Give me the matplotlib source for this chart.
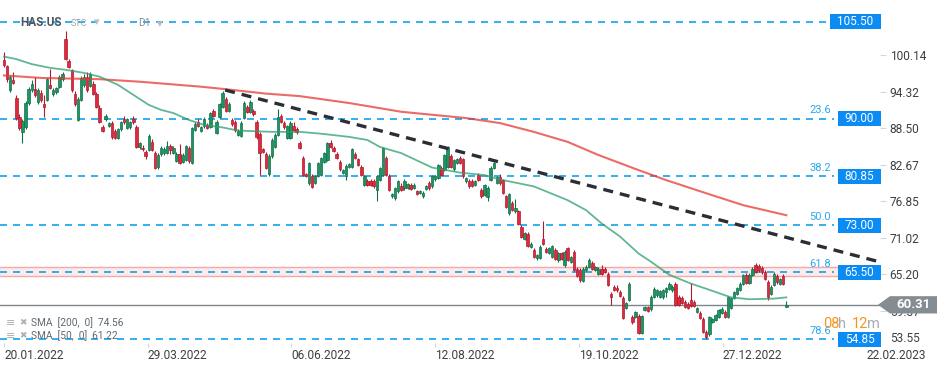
import numpy as np
import matplotlib
matplotlib.use("Agg")
import matplotlib.pyplot as plt
from matplotlib.patches import Rectangle, Polygon
from matplotlib.transforms import blended_transform_factory

plt.rcParams['font.family'] = ['Roboto', 'DejaVu Sans']

# daily candles HAS.US, 20.01.2022 -> Jan 2023
opens = [
    99.4, 98.4, 94.5, 96.2, 93.3, 90.3, 87.9, 88.7, 92.5, 94.6,
    94.7, 92.6, 94.1, 92.3, 93.0, 95.4, 93.9, 94.2, 95.1, 96.3,
    102.7, 99.2, 97.7, 94.0, 89.8, 93.0, 95.4, 96.7, 95.2, 95.6,
    93.9, 91.7, 88.6, 90.0, 88.9, 89.3, 88.1, 86.9, 88.3, 89.9,
    88.5, 88.6, 89.9, 88.7, 85.5, 85.4, 84.7, 85.0, 86.3, 84.5,
    82.3, 84.4, 84.6, 84.6, 85.6, 84.6, 83.3, 84.4, 83.1, 83.4,
    85.3, 83.0, 88.2, 89.5, 88.1, 88.8, 89.0, 88.7, 91.2, 87.7,
    90.2, 91.9, 93.2, 91.3, 89.8, 89.5, 87.4, 87.2, 90.1, 91.9,
    91.1, 91.3, 89.5, 87.6, 85.1, 84.4, 81.2, 84.0, 85.5, 87.4,
    90.4, 89.3, 86.9, 86.9, 88.8, 88.3, 86.1, 83.7, 81.2, 79.7,
    80.8, 79.8, 80.9, 81.0, 83.1, 83.4, 86.1, 85.3, 84.4, 83.1,
    81.3, 80.9, 82.3, 82.3, 84.4, 83.5, 82.3, 79.4, 80.0, 80.1,
    80.0, 78.6, 80.2, 81.0, 83.7, 80.8, 77.6, 77.3, 78.4, 79.2,
    78.9, 79.0, 79.4, 79.0, 78.4, 78.2, 77.6, 78.8, 79.7, 79.2,
    80.3, 80.5, 82.1, 81.8, 82.3, 84.0, 81.9, 82.9, 83.7, 83.5,
    80.0, 80.0, 80.0, 79.4, 81.0, 78.6, 77.8, 77.5, 80.2, 82.1,
    79.8, 80.7, 80.2, 77.7, 74.9, 76.5, 75.2, 75.2, 72.7, 70.8,
    71.6, 69.6, 69.1, 67.7, 67.8, 70.8, 69.2, 68.6, 67.9, 69.1,
    67.4, 68.5, 66.7, 69.3, 67.2, 68.8, 66.1, 65.9, 64.1, 65.9,
    66.4, 67.0, 65.9, 65.2, 66.1, 66.1, 65.3, 62.0, 63.2, 63.0,
    62.4, 61.4, 59.8, 61.1, 58.4, 58.4, 58.5, 55.8, 59.5, 59.9,
    59.6, 61.6, 61.8, 61.6, 61.5, 62.4, 62.9, 62.6, 63.7, 61.6,
    61.4, 60.8, 60.5, 61.0, 60.8, 59.2, 59.0, 58.1, 56.0, 55.6,
    57.6, 57.9, 58.4, 59.0, 59.2, 58.4, 59.8, 61.4, 62.0, 62.7,
    63.7, 65.1, 63.8, 65.1, 66.7, 66.5, 66.2, 65.6, 64.0, 62.0,
    63.5, 64.9, 63.6, 64.9, 60.0,
]
highs = [
    100.7, 98.6, 96.9, 97.5, 93.8, 90.8, 90.0, 92.8, 95.0, 96.2,
    96.7, 94.9, 94.5, 93.8, 96.5, 97.9, 94.9, 95.1, 96.9, 97.5,
    104.0, 99.5, 98.0, 94.4, 93.5, 96.8, 97.2, 97.4, 97.5, 96.0,
    94.2, 92.2, 89.0, 90.8, 89.5, 89.6, 88.4, 88.5, 89.7, 90.5,
    90.1, 89.6, 90.5, 89.0, 86.3, 85.8, 85.0, 87.6, 86.7, 84.8,
    84.5, 85.6, 85.5, 86.4, 85.9, 85.6, 84.7, 85.9, 84.5, 85.8,
    85.7, 88.7, 89.4, 90.0, 88.9, 90.3, 89.3, 91.1, 91.5, 89.8,
    92.5, 94.4, 93.5, 92.6, 90.1, 89.8, 88.3, 89.6, 92.8, 92.2,
    92.9, 91.6, 89.8, 87.9, 85.4, 84.7, 84.3, 86.9, 87.7, 91.5,
    90.7, 89.6, 89.0, 89.6, 89.5, 88.6, 86.4, 84.0, 81.4, 83.1,
    81.1, 81.0, 83.1, 83.9, 84.7, 86.3, 86.6, 85.6, 84.7, 83.4,
    82.0, 82.7, 83.0, 85.3, 84.7, 83.8, 82.6, 81.0, 80.3, 80.4,
    80.3, 81.0, 82.3, 85.5, 84.0, 81.1, 78.2, 79.1, 80.2, 79.8,
    80.3, 79.8, 79.7, 79.7, 78.7, 78.7, 78.4, 79.5, 80.0, 81.0,
    81.0, 82.8, 82.4, 84.4, 85.7, 84.3, 83.6, 83.7, 84.0, 83.8,
    80.7, 80.3, 80.3, 80.2, 81.3, 78.9, 79.6, 79.2, 82.4, 83.1,
    80.9, 81.2, 80.4, 77.9, 78.2, 76.8, 77.2, 75.5, 73.0, 72.0,
    71.9, 70.3, 69.4, 68.4, 69.9, 73.6, 69.5, 69.5, 69.9, 69.4,
    68.7, 68.8, 69.0, 69.6, 68.1, 69.1, 66.4, 66.2, 66.4, 66.6,
    67.8, 67.3, 66.5, 66.3, 66.6, 66.4, 65.6, 62.3, 63.5, 63.5,
    62.7, 61.7, 60.8, 63.9, 58.7, 59.4, 58.8, 58.7, 60.2, 60.2,
    61.8, 63.1, 62.8, 62.7, 62.8, 63.2, 63.9, 63.4, 64.0, 61.9,
    61.7, 61.1, 60.8, 63.8, 61.1, 60.0, 59.3, 58.4, 56.3, 58.6,
    58.2, 58.9, 59.7, 59.9, 59.5, 61.7, 61.6, 62.5, 63.2, 63.9,
    65.3, 65.4, 65.4, 66.3, 67.0, 66.8, 66.5, 65.9, 64.3, 63.4,
    65.5, 65.2, 64.6, 65.2, 60.9,
]
lows = [
    98.3, 95.8, 94.3, 95.5, 89.8, 88.2, 86.2, 88.4, 92.2, 94.2,
    93.5, 92.3, 92.6, 90.3, 92.8, 94.7, 93.6, 94.0, 94.9, 96.0,
    99.3, 98.1, 94.3, 92.1, 89.6, 92.8, 95.1, 94.3, 95.0, 93.8,
    91.7, 89.3, 87.9, 89.7, 88.6, 86.8, 86.7, 86.7, 88.1, 89.2,
    88.3, 88.4, 89.2, 85.3, 85.2, 84.9, 83.6, 84.8, 84.8, 81.9,
    82.0, 84.0, 84.2, 84.4, 84.3, 84.3, 83.1, 82.8, 82.9, 83.2,
    83.0, 82.8, 88.0, 88.6, 87.9, 88.5, 88.3, 88.5, 90.3, 87.5,
    90.0, 91.7, 91.1, 91.1, 88.9, 87.8, 87.2, 87.0, 89.9, 90.9,
    90.9, 90.5, 86.8, 81.0, 84.5, 82.0, 80.8, 83.8, 85.3, 87.2,
    89.3, 88.4, 86.7, 86.7, 88.0, 87.6, 85.2, 80.8, 80.7, 79.5,
    78.9, 79.6, 80.7, 80.8, 82.9, 83.2, 85.3, 84.7, 83.6, 81.7,
    81.1, 80.2, 82.1, 82.1, 83.5, 82.4, 80.8, 79.2, 79.2, 79.2,
    79.0, 76.8, 80.0, 80.8, 80.8, 78.4, 77.4, 77.1, 78.2, 78.4,
    78.7, 78.8, 78.6, 78.8, 77.8, 78.0, 77.4, 78.6, 78.7, 79.0,
    80.1, 80.3, 80.8, 81.6, 82.1, 82.1, 81.7, 82.7, 82.7, 80.6,
    79.8, 79.0, 79.1, 79.2, 80.0, 77.4, 77.6, 76.8, 80.0, 81.9,
    79.6, 79.5, 78.0, 75.7, 74.7, 75.2, 75.0, 73.0, 71.0, 70.6,
    69.5, 69.4, 67.8, 67.5, 67.6, 69.8, 68.6, 68.4, 67.7, 67.4,
    67.2, 67.4, 66.3, 67.3, 67.0, 65.7, 64.7, 64.0, 63.9, 65.7,
    66.2, 65.9, 65.7, 65.0, 65.1, 65.4, 63.3, 60.3, 62.5, 62.4,
    61.5, 58.0, 59.6, 60.9, 57.3, 58.2, 55.6, 55.6, 59.3, 59.2,
    59.4, 61.4, 61.6, 61.4, 61.3, 61.5, 62.7, 62.4, 60.1, 60.1,
    60.4, 59.8, 59.6, 60.0, 60.0, 59.0, 58.0, 55.8, 54.9, 55.4,
    57.4, 57.7, 58.2, 58.8, 58.2, 58.2, 59.6, 61.2, 61.8, 62.5,
    63.5, 63.6, 63.6, 64.9, 65.4, 65.6, 65.3, 64.2, 61.0, 61.8,
    63.3, 63.7, 63.4, 63.4, 59.9,
]
closes = [
    98.5, 96.3, 96.7, 95.7, 90.1, 88.5, 89.7, 92.5, 94.7, 95.5,
    93.7, 94.6, 92.9, 91.9, 96.3, 94.9, 94.6, 94.9, 96.6, 97.2,
    99.5, 98.3, 94.5, 92.3, 93.2, 96.5, 96.7, 94.6, 97.2, 94.0,
    91.9, 89.5, 88.1, 90.4, 89.3, 87.0, 86.9, 88.3, 89.4, 89.4,
    89.9, 89.4, 89.4, 85.5, 86.1, 85.1, 84.0, 87.3, 85.0, 82.1,
    84.2, 85.3, 85.2, 85.6, 85.0, 85.3, 84.4, 83.0, 84.2, 85.6,
    83.3, 88.5, 89.1, 88.8, 88.7, 90.0, 88.5, 90.9, 90.5, 89.5,
    92.3, 94.1, 91.3, 92.3, 89.1, 88.2, 88.0, 89.3, 92.5, 91.1,
    92.6, 90.7, 87.0, 84.5, 84.7, 82.2, 84.0, 86.6, 87.4, 90.3,
    89.5, 88.6, 88.8, 89.3, 88.2, 87.8, 85.4, 81.0, 80.9, 82.9,
    79.1, 80.8, 82.9, 83.7, 84.5, 86.1, 85.5, 84.9, 83.8, 81.9,
    81.8, 82.5, 82.8, 85.1, 83.7, 82.6, 81.0, 80.8, 79.4, 79.4,
    79.3, 80.8, 82.1, 85.3, 81.0, 78.6, 78.0, 78.9, 80.0, 78.6,
    80.1, 79.6, 78.8, 79.5, 78.0, 78.5, 78.2, 79.3, 78.9, 80.8,
    80.8, 82.6, 81.0, 84.2, 85.5, 82.3, 83.4, 83.5, 82.9, 80.8,
    80.5, 79.2, 79.3, 80.0, 80.2, 77.6, 79.4, 79.0, 82.2, 82.9,
    80.7, 79.7, 78.2, 75.9, 78.0, 75.4, 75.7, 73.2, 71.2, 71.7,
    69.7, 70.0, 68.0, 68.2, 69.6, 70.0, 68.8, 69.3, 69.7, 67.6,
    68.5, 67.6, 68.8, 67.5, 67.9, 65.9, 64.9, 64.3, 66.1, 66.3,
    67.5, 66.1, 66.3, 66.1, 65.3, 65.6, 63.5, 61.5, 62.7, 62.6,
    61.7, 58.2, 60.6, 63.7, 57.5, 59.2, 55.8, 58.5, 60.0, 59.4,
    61.6, 62.9, 62.6, 62.5, 62.6, 63.0, 63.7, 63.2, 60.3, 60.3,
    60.6, 60.0, 59.8, 60.2, 60.2, 59.8, 58.2, 56.0, 55.2, 58.4,
    58.0, 58.7, 59.5, 59.7, 58.4, 61.5, 61.4, 62.3, 63.0, 63.7,
    65.1, 63.8, 65.1, 66.1, 65.6, 65.8, 65.5, 64.4, 61.6, 63.2,
    65.3, 63.9, 64.4, 63.6, 60.31,
]

# moving averages, read at a few bars
sma200_idx = [0, 12, 31, 44, 64, 72, 85, 96, 112, 129, 150, 161, 172, 183, 193, 206, 215, 228, 240, 254]
sma200_val = [96.9, 96.5, 96.3, 95.9, 95.1, 94.7, 94.0, 93.6, 92.5, 91.1, 90.1, 89.3, 87.9, 86.3, 84.2, 81.8, 80.2, 78.1, 76.2, 74.6]
sma50_idx = [0, 4, 9, 15, 20, 26, 31, 37, 42, 47, 51, 55, 60, 65, 71, 76, 87, 96, 103, 112, 118, 122,
             129, 139, 148, 156, 161, 172, 177, 183, 189, 194, 200, 206, 210, 216, 223, 229, 236, 242, 250, 254]
sma50_val = [99.9, 99.5, 98.7, 98.1, 97.8, 97.3, 96.7, 95.4, 93.8, 92.2, 91.4, 90.9, 89.8, 89.0, 88.6, 88.1, 87.9, 87.9, 87.6, 87.1, 86.6, 85.5,
             84.5, 82.2, 81.4, 81.0, 80.3, 79.2, 78.2, 77.0, 75.4, 73.3, 71.2, 68.5, 67.2, 65.1, 63.7, 62.7, 61.5, 61.2, 61.3, 61.5]

fib_levels = [105.50, 90.00, 80.85, 73.00, 65.50, 54.85]
fib_pcts = ['', '23.6', '38.2', '50.0', '61.8', '78.6']

trend_idx = [71.8, 284.4]
trend_val = [94.57, 67.14]

zone_lo, zone_hi = 64.96, 66.30
last_price = 60.31

ytick_vals = [100.14, 94.32, 88.50, 82.67, 76.85, 71.02, 65.20, 59.37]
date_labels = ['20.01.2022', '29.03.2022', '06.06.2022', '12.08.2022', '19.10.2022', '27.12.2022', '22.02.2023']
date_pos = [0, 46.6, 93.3, 140, 186.7, 233.3, 280]

W, H = 949, 370
fig = plt.figure(figsize=(W / 100, H / 100), dpi=100)
ax = fig.add_axes([0, (H - 343) / H, 880 / W, 343 / H])
ax.set_xlim(-1.3, 284.4)
ax.set_ylim(54.22, 108.93)
for s in ax.spines.values():
    s.set_visible(False)

bt = blended_transform_factory(ax.transAxes, ax.transData)

# resistance zone
ax.axhspan(zone_lo, zone_hi, xmin=0, xmax=838 / 880, facecolor='#fdeaea', edgecolor='none', zorder=1)
for v in (zone_lo, zone_hi):
    ax.axhline(v, xmin=0, xmax=838 / 880, color='#f2a9a9', lw=1, zorder=1.2)

# fibo levels
for lvl, pct in zip(fib_levels, fib_pcts):
    left = 830 if lvl >= 100 else 838
    ax.axhline(lvl, xmin=0, xmax=(left - 4) / 880, color='#0fa3ef', lw=1.2,
               dashes=(4.2, 3.6), zorder=1.5)
    ax.add_patch(Rectangle((left / 880, lvl - 1.2), (881 - left) / 880, 2.4, transform=bt,
                           facecolor='#0b8cf5', edgecolor='none', clip_on=False, zorder=6))
    ax.text((left + 881) / 2 / 880, lvl, '%.2f' % lvl, transform=bt, ha='center', va='center',
            color='white', fontsize=8.5, zorder=7, clip_on=False)
    if pct:
        ax.text(831 / 880, lvl + 0.55, pct, transform=bt, ha='right', va='bottom',
                color='#2aa8ee', fontsize=8, zorder=6)

# last price line
ax.axhline(last_price, color='#7d858b', lw=1, zorder=1.6)

# candles
o = np.array(opens)
c = np.array(closes)
x = np.arange(len(o))
up = c >= o
lo = np.minimum(o, c)
hgt = np.maximum(np.abs(c - o), 0.15)
ax.vlines(x[up], np.array(lows)[up], np.array(highs)[up], color='#10704a', lw=0.8, zorder=3)
ax.vlines(x[~up], np.array(lows)[~up], np.array(highs)[~up], color='#b01a2c', lw=0.8, zorder=3)
ax.bar(x[up], hgt[up], bottom=lo[up], width=0.78, color='#1f9463', edgecolor='#10704a', lw=0.5, zorder=4)
ax.bar(x[~up], hgt[~up], bottom=lo[~up], width=0.78, color='#de2a3f', edgecolor='#b01a2c', lw=0.5, zorder=4)

# sma lines
ax.plot(sma200_idx, sma200_val, color='#e53935', lw=1.5, alpha=0.75, zorder=5)
ax.plot(sma50_idx, sma50_val, color='#2e9e6e', lw=1.3, alpha=0.75, zorder=5)

# trend line
ax.plot(trend_idx, trend_val, color='#2a2f36', lw=2.4, dashes=(3, 2.1), zorder=5.5, clip_on=False)

# axis ticks
ax.yaxis.tick_right()
ax.set_yticks(ytick_vals)
ax.set_yticklabels(['%.2f' % v for v in ytick_vals])
ax.tick_params(axis='y', length=4.5, width=0.8, color='#d5d8db', pad=2.5, labelsize=8.6, labelcolor='#3c4043')
ax.set_xticks(date_pos)
ax.set_xticklabels(date_labels, ha='left')
ax.tick_params(axis='x', length=3, width=0.8, color='#d5d8db', pad=1, labelsize=8.6, labelcolor='#3c4043')
fig.text(890 / W, 1 - 339 / H, '53.55', ha='left', va='center', fontsize=8.6, color='#3c4043')

# current price tag
tag = Polygon([(878 / 880, last_price), (890 / 880, last_price + 1.38), (937 / 880, last_price + 1.38),
               (937 / 880, last_price - 1.38), (890 / 880, last_price - 1.38)],
              closed=True, transform=bt, facecolor='#858c92', edgecolor='none', clip_on=False, zorder=8)
ax.add_patch(tag)
ax.text(913 / 880, last_price, '%.2f' % last_price, transform=bt, ha='center', va='center',
        color='white', fontsize=9.5, fontweight='bold', zorder=9, clip_on=False)

# countdown
def ftxt(px, py, s, **kw):
    fig.text(px / W, 1 - py / H, s, va='center', **kw)

ftxt(823, 324, '08', color='#f7941d', fontsize=10.5, ha='left')
ftxt(838, 324, 'h', color='#a7adb2', fontsize=10.5, ha='left')
ftxt(852, 324, '12', color='#f7941d', fontsize=10.5, ha='left')
ftxt(867, 324, 'm', color='#a7adb2', fontsize=10.5, ha='left')

# header
ftxt(20, 23, 'HAS.US', color='#4d5660', fontsize=8.5, fontweight='bold', ha='left')
ftxt(71, 24, 'STC', color='#9aa2aa', fontsize=6.5, ha='left')
ftxt(94, 22, '▾', color='#b8bdc2', fontsize=8, ha='left')
ftxt(138, 23, 'D1', color='#8a9198', fontsize=7.5, ha='left')
ftxt(157, 24, '▾', color='#b8bdc2', fontsize=8, ha='left')

# sma legend
for py, lab in [(323, 'SMA  [200,  0]  74.56'), (336, 'SMA  [50,  0]  61.22')]:
    ftxt(6, py, '≡', color='#aab0b5', fontsize=8, ha='left')
    ftxt(19, py, '✖', color='#aab0b5', fontsize=6.5, ha='left')
    ftxt(31, py, lab, color='#5f6870', fontsize=7.3, ha='left')

fig.savefig('out.png', dpi=100)
